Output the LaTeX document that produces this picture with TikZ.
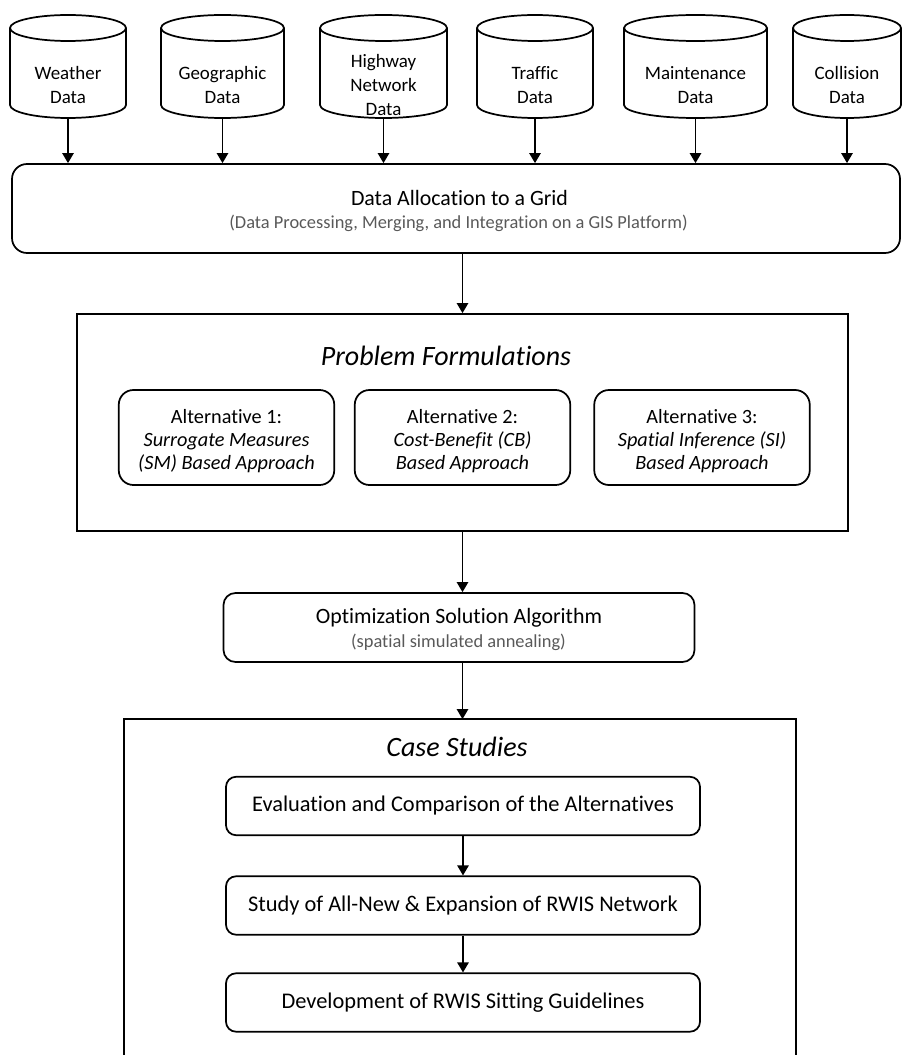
\documentclass[tikz,border=0pt]{standalone}
\usepackage{fontspec}
\setmainfont{Carlito}[Ligatures=NoCommon]
\usetikzlibrary{arrows.meta}
\definecolor{subgray}{RGB}{89,89,89}
\tikzset{
  arr/.style={-{Triangle[width=8.5pt,length=7.5pt]}, line width=1.2pt},
  cyltext/.style={inner sep=0pt, align=center, font=\fontsize{14.2}{18}\selectfont},
  rbox/.style={draw, line width=1.3pt, inner sep=0pt, align=center},
  bigtitle/.style={inner sep=0pt, font=\fontsize{21}{25}\selectfont\itshape},
  maintitle/.style={inner sep=0pt, anchor=base, font=\fontsize{16.4}{20}\selectfont},
  subtitle/.style={inner sep=0pt, anchor=base, text=subgray, font=\fontsize{13.8}{16}\selectfont},
  altbox/.style={rbox, rounded corners=11pt, minimum width=161.6pt, minimum height=71.25pt},
  alttext/.style={inner sep=0pt, align=center, font=\fontsize{15.2}{17.25}\selectfont},
  casebox/.style={rbox, rounded corners=7.5pt, minimum width=355.5pt, minimum height=43.8pt, font=\fontsize{16.8}{20}\selectfont},
}
\begin{document}
\begin{tikzpicture}[x=0.75pt,y=-0.75pt, line width=1.3pt]
\useasboundingbox (0,0) rectangle (902,1055);

% data cylinders
\foreach \n/\cx/\hw/\t in {w/68/58/{Weather\\Data}, g/222.5/61.5/{Geographic\\Data}, h/383.5/63.5/{Highway\\Network\\Data}, t/535/58/{Traffic\\Data}, m/695.5/71.5/{Maintenance\\Data}, c/847/54/{Collision\\Data}}{
  \draw (\cx,28) ellipse [x radius={\hw*0.75pt}, y radius=9.75pt];
  \draw (\cx-\hw,28) -- (\cx-\hw,105) arc[start angle=180, end angle=360, x radius={\hw*0.75pt}, y radius=9.75pt] -- (\cx+\hw,28);
  \node[cyltext] (\n) at (\cx,85) {\t};
  \coordinate (\n-b) at (\cx,118);
}

% allocation box
\node[rbox, rounded corners=11.25pt, minimum width=666pt, minimum height=66.75pt] (alloc) at (456,208.5) {};
\node[maintitle] (allocT) at (459.5,206) {Data Allocation to a Grid};
\node[subtitle] (allocS) at (458.5,229) {(Data Processing, Merging, and Integration on a GIS Platform)};

\foreach \n in {w,g,h,t,m,c}{
  \draw[arr] (\n-b) -- (\n-b |- alloc.north);
}

% problem formulations
\node[rbox, minimum width=578.25pt, minimum height=162.75pt] (prob) at (462.5,422.5) {};
\node[bigtitle] (probt) at (446,356) {Problem Formulations};
\node[altbox] (a1) at (226.5,437.5) {};
\node[altbox] (a2) at (462.5,437.5) {};
\node[altbox] (a3) at (702,437.5) {};
\node[alttext] (a1t) at (226.5,441.5) {Alternative 1:\\\textit{Surrogate Measures}\\\textit{(SM) Based Approach}};
\node[alttext] (a2t) at (462.5,441.5) {Alternative 2:\\\textit{Cost-Benefit (CB)}\\\textit{Based Approach}};
\node[alttext] (a3t) at (702,441.5) {Alternative 3:\\\textit{Spatial Inference (SI)}\\\textit{Based Approach}};

\draw[arr] (alloc.south -| prob.north) -- (prob.north);

% optimization
\node[rbox, rounded corners=9pt, minimum width=353.25pt, minimum height=51.75pt] (opt) at (459,627.5) {};
\node[maintitle] (optT) at (459,623) {Optimization Solution Algorithm};
\node[subtitle] (optS) at (458.5,647) {(spatial simulated annealing)};
\draw[arr] (prob.south) -- (prob.south |- opt.north);

% case studies
\node[inner sep=0pt, minimum width=502.5pt, minimum height=251.25pt] (case) at (460,887.5) {};
\draw (case.south west) -- (case.north west) -- (case.north east) -- (case.south east);
\node[bigtitle] (caset) at (457,747) {Case Studies};
\draw[arr] (opt.south -| prob.south) -- (case.north -| prob.south);

\node[casebox] (e1) at (463,806) {Evaluation and Comparison of the Alternatives};
\node[casebox] (e2) at (463,905.5) {Study of All-New \& Expansion of RWIS Network};
\node[casebox] (e3) at (463,1002.5) {Development of RWIS Sitting Guidelines};
\draw[arr] (e1) -- (e2);
\draw[arr] (e2) -- (e3);
\end{tikzpicture}
\end{document}
